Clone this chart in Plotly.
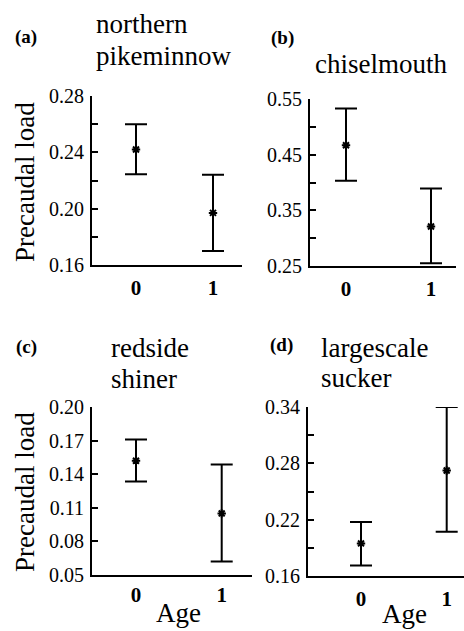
import plotly.graph_objects as go

W, H = 464, 631
FONT = "Liberation Serif"

ages = [0, 1]
titles_a = ["northern", "pikeminnow"]
titles_b = ["chiselmouth"]
titles_c = ["redside", "shiner"]
titles_d = ["largescale", "sucker"]
letters = ["(a)", "(b)", "(c)", "(d)"]
ytitle = "Precaudal load"
xtitle = "Age"

mean_a = [0.242, 0.197]
upper_a = [0.260, 0.224]
lower_a = [0.2245, 0.170]

mean_b = [0.467, 0.321]
upper_b = [0.533, 0.389]
lower_b = [0.403, 0.255]

mean_c = [0.152, 0.105]
upper_c = [0.171, 0.1486]
lower_c = [0.1335, 0.062]

mean_d = [0.1947, 0.2723]
upper_d = [0.2174, 0.340]
lower_d = [0.1713, 0.2071]

yticks_a = [0.16, 0.20, 0.24, 0.28]
yticks_b = [0.25, 0.35, 0.45, 0.55]
yticks_c = [0.05, 0.08, 0.11, 0.14, 0.17, 0.20]
yticks_d = [0.16, 0.22, 0.28, 0.34]

panels = [
    dict(mean=mean_a, up=upper_a, lo=lower_a, yt=yticks_a, minor=0.02, xstand=3,
         xpx=(92, 242), x0=136, x1=213, ypx=(96, 265)),
    dict(mean=mean_b, up=upper_b, lo=lower_b, yt=yticks_b, minor=0.05, xstand=3,
         xpx=(310, 456), x0=346, x1=431, ypx=(99, 266)),
    dict(mean=mean_c, up=upper_c, lo=lower_c, yt=yticks_c, minor=None, xstand=0,
         xpx=(92, 252), x0=136, x1=221.7, ypx=(407, 575)),
    dict(mean=mean_d, up=upper_d, lo=lower_d, yt=yticks_d, minor=0.03, xstand=3,
         xpx=(308, 464), x0=361, x1=446.7, ypx=(407, 576)),
]

fig = go.Figure()
layout = dict(width=W, height=H, margin=dict(l=0, r=0, t=0, b=0, pad=0, autoexpand=False),
              paper_bgcolor="white", plot_bgcolor="white", showlegend=False,
              font=dict(family=FONT, color="black"))

for i, p in enumerate(panels):
    n = "" if i == 0 else str(i + 1)
    xa, ya = "x" + n, "y" + n
    plus = [u - m for u, m in zip(p["up"], p["mean"])]
    minus = [m - l for m, l in zip(p["mean"], p["lo"])]
    fig.add_trace(go.Scatter(
        x=ages, y=p["mean"], mode="markers", xaxis=xa, yaxis=ya,
        marker=dict(symbol="asterisk-open", size=7, color="black",
                    line=dict(color="black", width=2)),
        error_y=dict(type="data", symmetric=False, array=plus, arrayminus=minus,
                     width=11, thickness=2, color="black"),
        cliponaxis=False))
    scale = (p["x1"] - p["x0"])
    xr = [-(p["x0"] - p["xpx"][0]) / scale, 1 + (p["xpx"][1] - p["x1"]) / scale]
    yt = p["yt"]
    layout["xaxis" + n] = dict(
        domain=[p["xpx"][0] / W, p["xpx"][1] / W], range=xr, anchor=ya, automargin=False,
        showline=True, linecolor="black", linewidth=2, showgrid=False, zeroline=False,
        tickvals=ages, ticktext=["<b>%d</b>" % a for a in ages], ticks="",
        tickfont=dict(family=FONT, size=21, color="black"), ticklabelstandoff=p["xstand"])
    yaxis = dict(
        domain=[1 - p["ypx"][1] / H, 1 - p["ypx"][0] / H], range=[yt[0], yt[-1]], anchor=xa,
        automargin=False,
        showline=True, linecolor="black", linewidth=2, showgrid=False, zeroline=False,
        tickvals=yt, ticktext=["%.2f" % v for v in yt], ticks="inside", ticklen=6,
        tickwidth=1.5, tickcolor="black",
        tickfont=dict(family=FONT, size=20, color="black"), ticklabelstandoff=2)
    if p["minor"]:
        yaxis["minor"] = dict(ticks="inside", ticklen=6, tickwidth=1.5, tickcolor="black",
                              dtick=p["minor"], tick0=yt[0], showgrid=False)
    layout["yaxis" + n] = yaxis

fig.update_layout(**layout)

def ann(text, px, py, size, xanchor="center", bold=False, angle=0):
    fig.add_annotation(text=("<b>%s</b>" % text) if bold else text,
                       x=px / W, y=1 - py / H, xref="paper", yref="paper",
                       xanchor=xanchor, yanchor="middle", showarrow=False, textangle=angle,
                       font=dict(family=FONT, size=size, color="black"))

# panel letters
ann(letters[0], 26, 37, 19, bold=True)
ann(letters[1], 282, 38, 19, bold=True)
ann(letters[2], 26, 347, 19, bold=True)
ann(letters[3], 281, 345, 19, bold=True)
# titles (one annotation per line)
ann(titles_a[0], 94, 24, 27, xanchor="left")
ann(titles_a[1], 94, 56, 27, xanchor="left")
ann(titles_b[0], 313, 64, 27, xanchor="left")
ann(titles_c[0], 109, 348, 27, xanchor="left")
ann(titles_c[1], 109, 379, 27, xanchor="left")
ann(titles_d[0], 319, 348, 27, xanchor="left")
ann(titles_d[1], 319, 378, 27, xanchor="left")
# y titles
ann(ytitle, 25, 182, 27, angle=-90)
ann(ytitle, 25, 492, 27, angle=-90)
# x titles
ann(xtitle, 178, 613, 27)
ann(xtitle, 404, 614, 27)

fig.write_html("out.html")
